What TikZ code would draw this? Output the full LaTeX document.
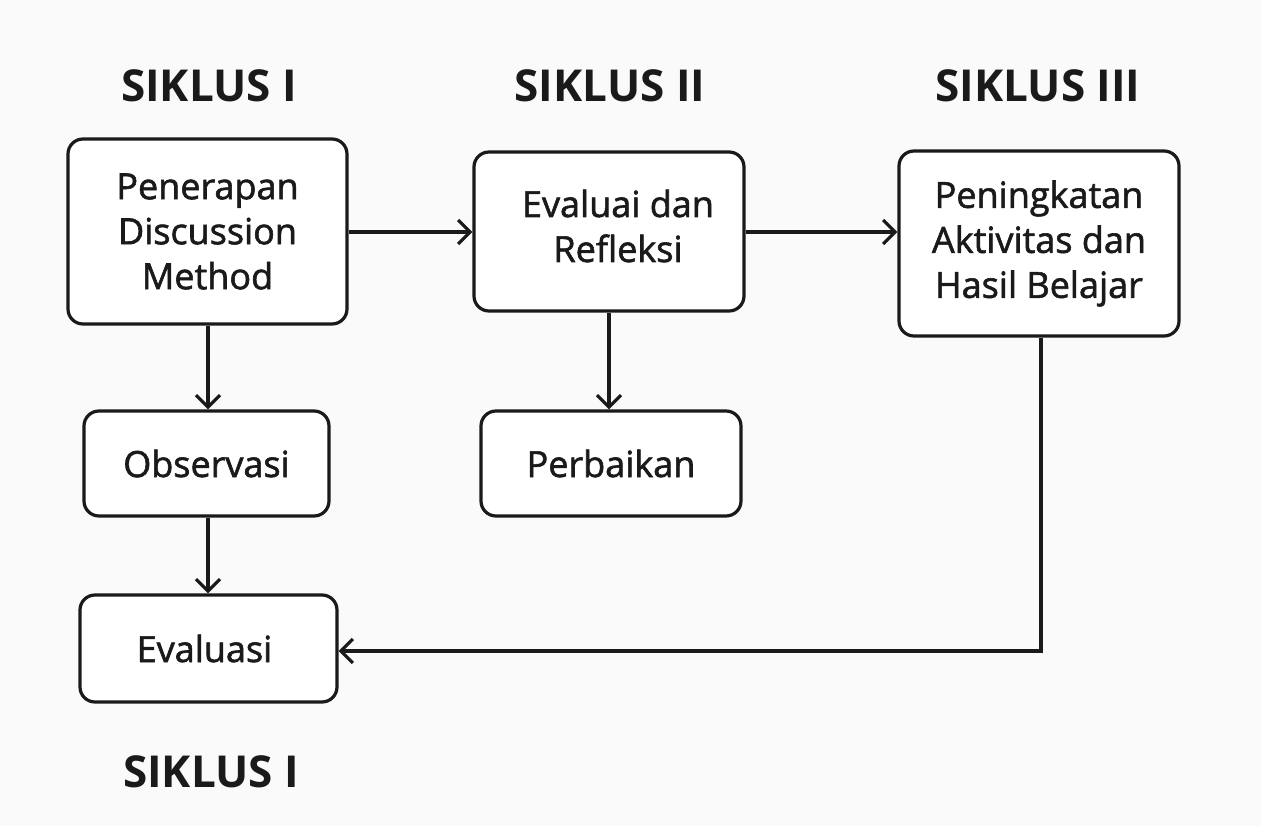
\documentclass[tikz,border=0pt]{standalone}
\usepackage{fontspec}
\setmainfont{Open Sans}
\newfontfamily\boxfont{Open Sans}[RawFeature={embolden=1.6}]
\usetikzlibrary{arrows.meta,positioning}
\definecolor{bg}{HTML}{FAFAFA}
\definecolor{ink}{HTML}{1A1A1A}
\begin{document}
\begin{tikzpicture}[x=1pt,y=-1pt,
  box/.style={draw=ink,line width=3.2pt,rounded corners=15pt,fill=white,
    inner sep=0pt,align=center,text=ink,font=\boxfont\fontsize{36}{45}\selectfont},
  title/.style={text=ink,font=\fontsize{44}{50}\selectfont\bfseries,inner sep=0pt},
  conn/.style={draw=ink,line width=3.2pt,-{Straight Barb[length=12pt,width=24pt,line width=3.2pt]}}]
\fill[bg] (0,0) rectangle (1261,826);
\useasboundingbox (0,0) rectangle (1261,826);
\node[title] (t1) at (209,86) {SIKLUS I};
\node[title] (t2) at (610,86) {SIKLUS II};
\node[title] (t3) at (1038,86) {SIKLUS III};
\node[title] (t4) at (211,772) {SIKLUS I};
\node[box,minimum width=279pt,minimum height=185pt] (a) at (207.5,231.5) {Penerapan\\Discussion\\Method};
\node[box,minimum width=270pt,minimum height=159pt] (b) at (609,231.5) {};
\node[text=ink,font=\boxfont\fontsize{36}{45}\selectfont,align=center,inner sep=0pt] (bt) at (618,226) {Evaluai dan\\Refleksi};
\node[box,minimum width=280pt,minimum height=185pt] (c) at (1039,243.5) {Peningkatan\\Aktivitas dan\\Hasil Belajar};
\node[box,minimum width=245pt,minimum height=105pt] (d) at (206.5,463.5) {Observasi};
\node[box,minimum width=260pt,minimum height=105pt] (e) at (611,463.5) {Perbaikan};
\node[box,minimum width=257pt,minimum height=107pt] (f) at (208.5,648.5) {\hspace*{-8pt}Evaluasi};
\draw[conn] (a.east |- 0,232) -- (b.west |- 0,232);
\draw[conn] (b.east |- 0,232) -- (c.west |- 0,232);
\draw[conn] (a.south -| 208,0) -- (d.north -| 208,0);
\draw[conn] (b.south -| 609,0) -- (e.north -| 609,0);
\draw[conn] (d.south -| 208,0) -- (f.north -| 208,0);
\draw[conn] (c.south -| 1041,0) |- (f.east |- 0,651);
\end{tikzpicture}
\end{document}
